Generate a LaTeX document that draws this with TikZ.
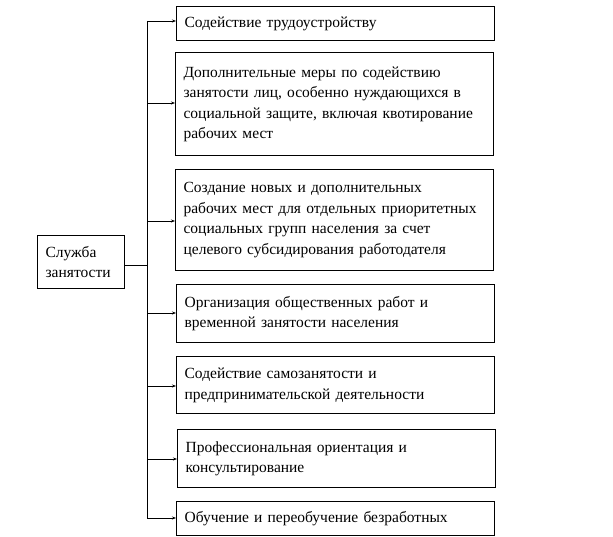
\documentclass[tikz,border=0pt]{standalone}
\usepackage{fontspec}
\setmainfont{Liberation Serif}
\usetikzlibrary{arrows.meta}
\begin{document}
\begin{tikzpicture}[x=1pt,y=-1pt,
  box/.style={draw,line width=1.2pt,anchor=north west,inner xsep=8pt,inner ysep=0pt,align=left,
    font=\fontsize{15.5}{20.5}\selectfont},
  conn/.style={line width=0.9pt},
  arr/.style={conn,-{Stealth[length=4pt,width=3pt]}}]
\useasboundingbox (0,0) rectangle (613,537);
\newcommand\bx[6]{\node[box,text width=#4-#2-16pt,minimum width=#4-#2,minimum height=#5-#3] (#1) at (#2,#3) {#6};}
\bx{b1}{176}{6}{494}{40}{Содействие трудоустройству}
\bx{b2}{175}{52}{493}{155}{Дополнительные меры по содействию\\занятости лиц, особенно нуждающихся в\\социальной защите, включая квотирование\\рабочих мест}
\bx{b3}{175}{169}{493}{270}{Создание новых и дополнительных\\рабочих мест для отдельных приоритетных\\социальных групп населения за счет\\целевого субсидирования работодателя}
\bx{b4}{176}{284}{494}{342}{Организация общественных работ и\\временной занятости населения}
\bx{b5}{176}{356}{494}{413}{Содействие самозанятости и\\предпринимательской деятельности}
\bx{b6}{177}{429}{495}{487}{Профессиональная ориентация и\\консультирование}
\bx{b7}{176}{501}{494}{535}{Обучение и переобучение безработных}
\bx{s}{37}{235}{124}{288}{Служба\\занятости}
\coordinate (top) at (147,21);
\coordinate (bot) at (147,518);
\draw[conn] (top) -- (bot);
\draw[conn] (s.east |- 0,265) -- (147,265);
\foreach \b/\y in {b1/21,b2/103,b3/221,b4/313,b5/386,b6/459,b7/518}
  \draw[arr] (147,\y) -- (\b.west |- 0,\y);
\end{tikzpicture}
\end{document}
